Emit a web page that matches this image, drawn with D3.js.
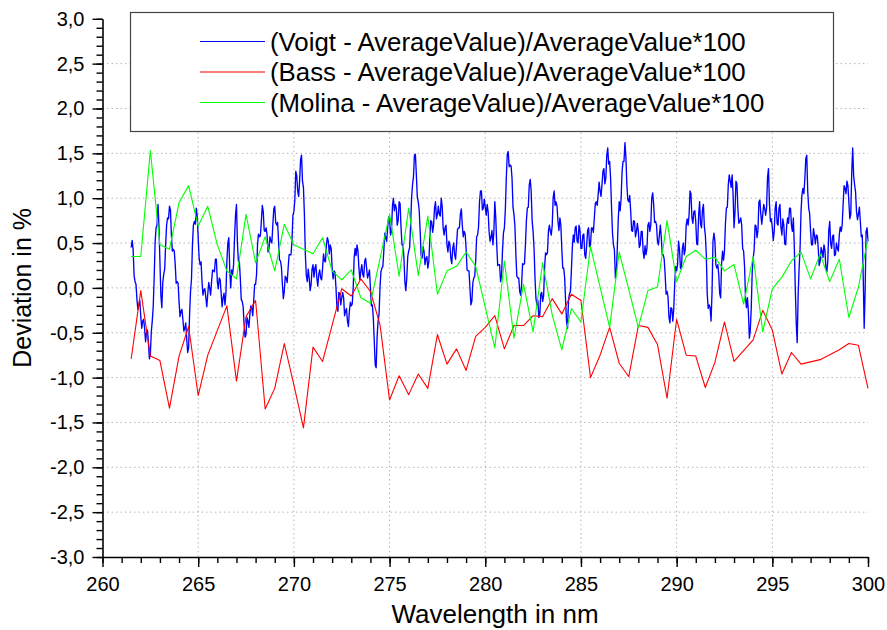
<!DOCTYPE html>
<html>
<head>
<meta charset="utf-8">
<script src="https://cdn.jsdelivr.net/npm/d3@7"></script>
<style>
  body { margin: 0; background: #fff; }
  text { font-family: "Liberation Sans", Arial, sans-serif; fill: #000; }
</style>
</head>
<body>
<div id="chart"></div>
<script>
var svgWidth = 887;
var svgHeight = 630;

// Voigt: sampled every 0.05 nm from 261.5 to 300.0 (one row per nm)
var voigtStart = 261.5;
var voigtStep = 0.05;
var voigtDev = [
  0.45, 0.53, 0.43, 0.14, 0.07, 0.04, -0.13, -0.24, -0.19, -0.14,
  -0.32, -0.45, -0.37, -0.35, -0.45, -0.60, -0.50, -0.47, -0.61, -0.79, -0.74, -0.49, -0.37, -0.21, 0.11, 0.51, 0.67, 0.70, 0.93, 0.68,
  0.30, -0.08, -0.22, 0.06, 0.15, 0.21, 0.48, 0.70, 0.78, 0.77, 0.91, 0.87, 0.59, 0.41, 0.43, 0.41, 0.26, 0.05, 0.07, 0.05,
  -0.15, -0.32, -0.26, -0.24, -0.35, -0.48, -0.45, -0.39, -0.57, -0.72, -0.67, -0.30, -0.04, 0.10, 0.48, 0.70, 0.74, 0.71, 0.89, 0.80,
  0.56, 0.33, 0.26, 0.29, 0.07, -0.08, -0.02, -0.01, -0.11, -0.21, -0.07, 0.06, 0.00, -0.08, 0.07, 0.20, 0.19, 0.18, 0.32, 0.32,
  0.07, -0.01, 0.11, 0.09, -0.06, -0.21, -0.11, -0.06, -0.19, -0.06, 0.30, 0.50, 0.56, 0.20, 0.00, 0.20, 0.15, 0.26, 0.56, 0.81,
  0.93, 0.50, 0.30, 0.30, 0.11, -0.13, -0.15, -0.21, -0.41, -0.55, -0.52, -0.33, -0.37, -0.44, -0.30, -0.20, -0.22, -0.31, -0.15, 0.04,
  0.04, 0.15, 0.48, 0.60, 0.57, 0.58, 0.74, 0.92, 0.85, 0.64, 0.63, 0.67, 0.59, 0.40, 0.44, 0.57, 0.52, 0.50, 0.70, 0.88,
  0.91, 0.73, 0.70, 0.73, 0.52, 0.31, 0.30, 0.23, 0.04, -0.12, -0.04, 0.13, 0.11, 0.06, 0.22, 0.37, 0.37, 0.37, 0.52, 0.81,
  0.85, 0.98, 1.30, 1.25, 1.08, 1.02, 1.19, 1.43, 1.48, 1.19, 1.12, 0.82, 0.37, 0.14, 0.07, 0.21, 0.11, -0.03, 0.04, 0.21,   // 270
  0.26, 0.12, 0.22, 0.26, 0.11, 0.02, 0.15, 0.20, 0.11, 0.09, 0.22, 0.38, 0.30, 0.29, 0.48, 0.56, 0.52, 0.38, 0.48, 0.44,
  0.22, 0.10, 0.19, 0.17, 0.00, -0.21, -0.26, -0.05, -0.07, -0.19, -0.11, -0.05, -0.11, -0.31, -0.26, -0.23, -0.37, -0.43, -0.26, -0.16,
  -0.20, -0.18, 0.00, 0.34, 0.44, 0.36, 0.48, 0.41, 0.22, 0.09, 0.19, 0.26, 0.15, 0.12, 0.30, 0.33, 0.22, 0.11, 0.15, 0.20,
  0.00, -0.20, -0.19, -0.33, -0.59, -0.86, -0.89, -0.54, -0.37, -0.30, 0.00, 0.18, 0.22, 0.24, 0.41, 0.61, 0.56, 0.52, 0.67, 0.79,
  0.78, 0.59, 0.63, 0.91, 1.00, 0.86, 0.93, 0.89, 0.70, 0.75, 0.96, 0.94, 0.67, 0.48, 0.48, 0.34, 0.07, -0.03, 0.11, 0.35,     // 275
  0.41, 0.45, 0.70, 1.00, 1.15, 1.24, 1.48, 1.49, 1.26, 1.01, 0.96, 0.86, 0.63, 0.36, 0.33, 0.46, 0.41, 0.26, 0.33, 0.35,
  0.22, 0.29, 0.52, 0.75, 0.74, 0.62, 0.70, 0.89, 0.96, 0.77, 0.82, 0.91, 0.82, 0.80, 1.00, 0.91, 0.67, 0.59, 0.67, 0.70,
  0.48, 0.40, 0.52, 0.49, 0.33, 0.27, 0.44, 0.50, 0.37, 0.32, 0.48, 0.65, 0.67, 0.67, 0.82, 0.88, 0.70, 0.57, 0.63, 0.60,
  0.44, 0.20, 0.19, 0.19, 0.00, -0.19, -0.15, 0.05, 0.11, 0.13, 0.30, 0.57, 0.59, 0.68, 0.96, 1.08, 1.08, 0.87, 0.89, 0.99,
  0.90, 0.81, 0.93, 0.85, 0.63, 0.52, 0.56, 0.64, 0.48, 0.62, 0.96, 0.78, 0.48, 0.25, 0.26, 0.26, 0.07, 0.13, 0.41, 0.61,     // 280
  0.67, 0.87, 1.22, 1.49, 1.52, 1.35, 1.37, 1.36, 1.22, 0.90, 0.82, 0.69, 0.37, 0.13, 0.11, 0.11, -0.04, -0.08, 0.04, 0.27,
  0.26, 0.27, 0.48, 0.75, 0.89, 0.90, 1.15, 1.21, 1.08, 0.75, 0.63, 0.44, 0.11, -0.12, -0.19, -0.14, -0.33, -0.30, -0.07, -0.05,
  -0.15, -0.09, 0.22, 0.39, 0.37, 0.39, 0.63, 0.70, 0.63, 0.59, 0.70, 1.01, 1.08, 0.92, 0.96, 0.91, 0.74, 0.64, 0.78, 0.70,
  0.44, 0.22, 0.22, 0.11, -0.15, -0.38, -0.45, -0.14, -0.07, -0.04, 0.19, 0.45, 0.59, 0.51, 0.67, 0.69, 0.52, 0.50, 0.70, 0.64,
  0.44, 0.44, 0.59, 0.60, 0.37, 0.33, 0.48, 0.64, 0.67, 0.46, 0.48, 0.67, 0.67, 0.62, 0.78, 0.94, 0.96, 0.92, 1.04, 1.18,     // 285
  1.08, 1.02, 1.15, 1.30, 1.33, 1.16, 1.22, 1.48, 1.56, 1.38, 1.41, 1.22, 0.89, 0.61, 0.48, 0.42, 0.11, 0.18, 0.44, 0.76,
  0.96, 0.86, 1.00, 1.30, 1.41, 1.41, 1.62, 1.46, 1.15, 0.98, 0.96, 1.03, 0.85, 0.64, 0.63, 0.75, 0.74, 0.57, 0.63, 0.72,
  0.63, 0.45, 0.48, 0.63, 0.63, 0.40, 0.33, 0.47, 0.37, 0.44, 0.70, 0.73, 0.63, 0.70, 1.00, 1.06, 0.93, 0.73, 0.74, 0.70,
  0.52, 0.48, 0.59, 0.70, 0.56, 0.37, 0.37, 0.32, 0.15, -0.07, -0.04, -0.10, -0.33, -0.39, -0.22, -0.23, -0.37, -0.24, 0.05, 0.24,
  0.19, 0.26, 0.52, 0.43, 0.22, 0.21, 0.44, 0.50, 0.37, 0.43, 0.70, 0.77, 0.70, 0.81, 1.08, 1.05, 0.78, 0.72, 0.85, 0.86,     // 290
  0.74, 0.49, 0.48, 0.81, 0.96, 0.71, 0.67, 0.87, 0.93, 0.68, 0.59, 0.38, -0.07, -0.23, -0.19, -0.22, -0.37, -0.05, 0.52, 0.61,
  0.52, 0.26, 0.22, 0.26, 0.15, -0.06, -0.11, 0.27, 0.41, 0.31, 0.41, 0.71, 0.89, 0.90, 1.15, 1.26, 1.19, 1.12, 1.26, 1.04,
  0.67, 0.85, 1.19, 1.16, 0.89, 0.72, 0.74, 0.78, 0.70, 0.44, 0.41, 0.24, -0.11, -0.22, -0.11, -0.27, -0.56, -0.47, -0.22, 0.18,
  0.33, 0.42, 0.70, 0.69, 0.56, 0.64, 0.96, 0.98, 0.82, 0.71, 0.82, 0.93, 0.89, 0.81, 0.89, 1.23, 1.33, 0.94, 0.74, 0.77,
  0.67, 0.53, 0.63, 0.89, 0.96, 0.72, 0.70, 0.89, 0.93, 0.68, 0.59, 0.77, 0.70, 0.49, 0.48, 0.69, 0.78, 0.72, 0.89, 0.89,     // 295
  0.70, 0.63, 0.78, 0.46, 0.00, -0.39, -0.61, -0.08, 0.22, 0.44, 0.85, 1.04, 1.11, 1.05, 1.22, 1.44, 1.48, 1.08, 0.89, 0.83,
  0.63, 0.48, 0.48, 0.66, 0.59, 0.49, 0.59, 0.58, 0.44, 0.25, 0.30, 0.45, 0.41, 0.34, 0.48, 0.42, 0.22, 0.18, 0.30, 0.64,
  0.74, 0.49, 0.44, 0.58, 0.59, 0.36, 0.37, 0.50, 0.44, 0.41, 0.59, 0.68, 0.63, 0.70, 0.93, 1.14, 1.11, 1.05, 1.19, 1.14,
  0.96, 0.77, 0.82, 1.28, 1.56, 1.25, 1.15, 1.07, 0.85, 0.76, 0.82, 0.90, 0.74, 0.57, 0.59, 0.13, -0.45, -0.03, 0.63, 0.67,
  0.52                                                                                                                        // 300
];

var bassWl = [261.5, 262, 262.5, 263, 263.5, 264, 264.5, 265, 265.5, 266.5,
  267, 267.5, 268, 268.5, 269, 269.5, 270, 270.5, 271, 271.5,
  272.5, 273, 273.5, 274, 274.5, 275, 275.5, 276, 276.5, 277,
  277.5, 278, 278.5, 279, 279.5, 280, 280.5, 281, 281.5, 282,
  282.5, 283, 283.5, 284, 284.5, 285, 285.5, 286, 286.5, 287,
  287.5, 288, 288.5, 289, 289.5, 290, 290.5, 291, 291.5, 292,
  292.5, 293, 294, 294.5, 295, 295.5, 296, 296.5, 297.5, 298.5,
  299, 299.5, 300];
var bassDev = [-0.79, -0.03, -0.76, -0.81, -1.34, -0.76, -0.43, -1.20, -0.75, -0.20,
  -1.04, -0.32, -0.14, -1.35, -1.12, -0.62, -1.08, -1.56, -0.66, -0.82,
  -0.01, -0.09, 0.10, -0.04, -0.41, -1.25, -0.98, -1.19, -0.96, -1.12,
  -0.52, -0.85, -0.68, -0.92, -0.54, -0.44, -0.31, -0.68, -0.42, -0.42,
  -0.31, -0.32, -0.12, -0.29, -0.07, -0.14, -1.00, -0.75, -0.44, -0.84,
  -0.99, -0.42, -0.44, -0.63, -1.23, -0.35, -0.75, -0.76, -1.11, -0.83,
  -0.38, -0.82, -0.58, -0.25, -0.47, -0.96, -0.72, -0.85, -0.80, -0.69,
  -0.62, -0.64, -1.12];

var molinaWl = [261.5, 262, 262.5, 263, 263.5, 264, 264.5, 265, 265.5, 266,
  266.5, 267, 267.5, 268, 268.5, 269, 269.5, 270, 271, 271.5,
  272, 272.5, 273, 273.5, 274, 275, 275.5, 276, 276.5, 277,
  277.5, 278, 278.5, 279, 279.5, 280.5, 281, 281.5, 282, 282.5,
  283, 283.5, 284, 284.5, 285, 285.5, 286.5, 287, 288, 288.5,
  289, 289.5, 290, 290.5, 291, 291.5, 292, 292.5, 293, 293.5,
  294, 294.5, 295, 295.5, 296, 296.5, 297, 297.5, 298, 298.5,
  299, 299.5, 300];
var molinaDev = [0.35, 0.35, 1.53, 0.48, 0.43, 0.95, 1.14, 0.69, 0.91, 0.48,
  0.19, 0.10, 0.82, 0.28, 0.57, 0.19, 0.71, 0.48, 0.38, 0.56,
  0.19, 0.09, 0.20, -0.11, -0.17, 0.82, 0.13, 0.89, 0.14, 0.80,
  -0.07, 0.19, 0.24, 0.40, 0.24, -0.67, 0.30, -0.56, 0.04, -0.49,
  0.28, -0.30, -0.69, -0.23, -0.38, 0.46, -0.44, 0.40, -0.44, -0.03,
  0.01, 0.75, 0.07, 0.35, 0.42, 0.32, 0.34, 0.19, 0.26, -0.18,
  0.35, -0.49, -0.01, 0.12, 0.30, 0.40, 0.10, 0.38, 0.07, 0.32,
  -0.33, 0.01, 0.55];

var seriesNames = [
  "(Voigt - AverageValue)/AverageValue*100",
  "(Bass - AverageValue)/AverageValue*100",
  "(Molina - AverageValue)/AverageValue*100"
];
var seriesColors = ["#0000ff", "#ff0000", "#00ff00"];
var seriesWidths = [1.35, 1.1, 1.1];

var xTicks = [260, 265, 270, 275, 280, 285, 290, 295, 300];
var yTicks = [-3, -2.5, -2, -1.5, -1, -0.5, 0, 0.5, 1, 1.5, 2, 2.5, 3];

var voigtData = voigtDev.map(function(v, i) {
  return { wl: voigtStart + i * voigtStep, dev: v };
});
var bassData = bassWl.map(function(w, i) { return { wl: w, dev: bassDev[i] }; });
var molinaData = molinaWl.map(function(w, i) { return { wl: w, dev: molinaDev[i] }; });

var svg = d3.select("#chart")
  .append("svg")
  .attr("width", svgWidth)
  .attr("height", svgHeight);

svg.append("rect")
  .attr("width", svgWidth)
  .attr("height", svgHeight)
  .attr("fill", "#fff");

var xScale = d3.scaleLinear().domain([260, 300]).range([102.5, 868]);
var yScale = d3.scaleLinear().domain([-3, 3]).range([557, 18.8]);

var loc = d3.formatLocale({ decimal: ",", thousands: ".", grouping: [3], currency: ["", ""], minus: "-" });
var yFmt = loc.format(".1f");

// dotted grid
svg.append("g")
  .selectAll("line")
  .data(yTicks.filter(function(d) { return d > -3 && d < 3; }))
  .enter()
  .append("line")
  .attr("x1", xScale(260))
  .attr("x2", xScale(300))
  .attr("y1", function(d) { return yScale(d); })
  .attr("y2", function(d) { return yScale(d); })
  .attr("stroke", "#b4b4b4")
  .attr("stroke-dasharray", "1.5,3");

svg.append("g")
  .selectAll("line")
  .data(xTicks.filter(function(d) { return d > 260 && d < 300; }))
  .enter()
  .append("line")
  .attr("x1", function(d) { return xScale(d); })
  .attr("x2", function(d) { return xScale(d); })
  .attr("y1", yScale(-3))
  .attr("y2", yScale(3))
  .attr("stroke", "#b4b4b4")
  .attr("stroke-dasharray", "1.5,3");

// curves
var line = d3.line()
  .x(function(d) { return xScale(d.wl); })
  .y(function(d) { return yScale(d.dev); });

[voigtData, bassData, molinaData].forEach(function(data, i) {
  svg.append("path")
    .datum(data)
    .attr("fill", "none")
    .attr("stroke", seriesColors[i])
    .attr("stroke-width", seriesWidths[i])
    .attr("stroke-linejoin", "round")
    .attr("d", line);
});

// axes
var minorX = d3.range(260, 300.01, 1);
var minorY = d3.range(-30, 30.1, 1).map(function(d) { return d / 10; });

svg.append("g")
  .attr("transform", "translate(0," + yScale(-3) + ")")
  .call(d3.axisBottom(xScale).tickValues(minorX).tickSize(6).tickSizeOuter(0).tickFormat(""))
  .call(function(g) { g.select(".domain").remove(); });

svg.append("g")
  .attr("transform", "translate(" + xScale(260) + ",0)")
  .call(d3.axisLeft(yScale).tickValues(minorY).tickSize(6).tickSizeOuter(0).tickFormat(""))
  .call(function(g) { g.select(".domain").remove(); });

svg.append("g")
  .attr("transform", "translate(0," + yScale(-3) + ")")
  .call(d3.axisBottom(xScale).tickValues(xTicks).tickSize(10).tickSizeOuter(0).tickPadding(10));

svg.append("g")
  .attr("transform", "translate(" + xScale(260) + ",0)")
  .call(d3.axisLeft(yScale).tickValues(yTicks).tickSize(10).tickSizeOuter(0).tickPadding(8).tickFormat(yFmt));

svg.selectAll(".tick line").attr("stroke", "#000").attr("stroke-width", 1.4);
svg.selectAll(".domain").attr("stroke", "#000").attr("stroke-width", 1.6);
svg.selectAll(".tick text")
  .attr("font-family", "'Liberation Sans', Arial, sans-serif")
  .attr("font-size", 20)
  .attr("fill", "#000");

// axis titles
svg.append("text")
  .attr("x", 495)
  .attr("y", 623)
  .attr("text-anchor", "middle")
  .attr("font-size", 26)
  .text("Wavelength in nm");

svg.append("text")
  .attr("transform", "translate(31," + yScale(0) + ") rotate(-90)")
  .attr("text-anchor", "middle")
  .attr("font-size", 25)
  .text("Deviation in %");

// legend
var legend = svg.append("g");
legend.append("rect")
  .attr("x", 130.5)
  .attr("y", 12.5)
  .attr("width", 703)
  .attr("height", 119)
  .attr("fill", "#fff")
  .attr("stroke", "#444")
  .attr("stroke-width", 1.2);

seriesNames.forEach(function(name, i) {
  var cy = 41.5 + i * 30.5;
  legend.append("line")
    .attr("x1", 200)
    .attr("x2", 265)
    .attr("y1", cy)
    .attr("y2", cy)
    .attr("stroke", seriesColors[i])
    .attr("stroke-width", 1.2);
  legend.append("text")
    .attr("x", 270)
    .attr("y", cy + 9)
    .attr("font-size", 25.8)
    .text(name);
});
</script>
</body>
</html>
